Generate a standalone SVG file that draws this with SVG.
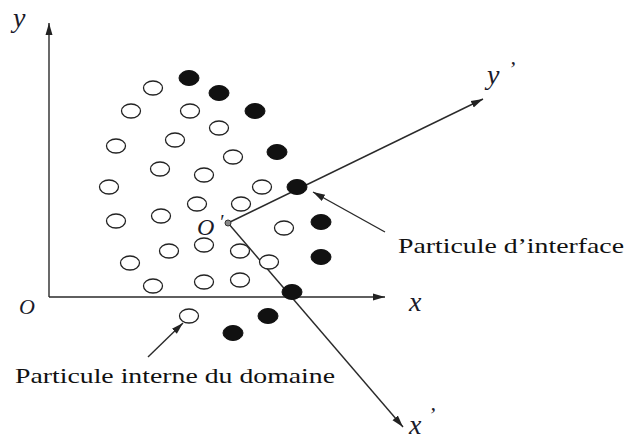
<svg xmlns="http://www.w3.org/2000/svg" width="628" height="441" viewBox="0 0 628 441">
<style>
.ax{stroke:#2a2a2a;stroke-width:1.4;fill:none}
.op{fill:#fff;stroke:#222;stroke-width:1.3}
.fl{fill:#111;stroke:#111;stroke-width:1}
.lbl{font-family:"Liberation Serif","Times New Roman",serif;font-style:italic;fill:#1a1a2a}
.txt{font-family:"Liberation Serif","Times New Roman",serif;font-size:22px;fill:#111}
</style>
<defs>
<marker id="ah" markerUnits="userSpaceOnUse" markerWidth="14" markerHeight="10" refX="12" refY="5" orient="auto">
<path d="M0,1.5 L12,5 L0,8.5 Z" fill="#222"/>
</marker>
</defs>
<rect width="628" height="441" fill="#fff"/>
<g id="connectors">
<line class="ax" x1="49" y1="297" x2="49" y2="23" marker-end="url(#ah)"/>
<line class="ax" x1="49" y1="297" x2="385" y2="297" marker-end="url(#ah)"/>
<line class="ax" x1="228" y1="223" x2="483" y2="99" marker-end="url(#ah)"/>
<line class="ax" x1="228" y1="223" x2="403" y2="427" marker-end="url(#ah)"/>
<line class="ax" x1="148" y1="357" x2="183" y2="323" marker-end="url(#ah)"/>
<line class="ax" x1="385" y1="232" x2="313" y2="192" marker-end="url(#ah)"/>
</g>
<g id="internal-particles">
<ellipse class="op" cx="153" cy="88" rx="9.5" ry="7"/>
<ellipse class="op" cx="131" cy="111" rx="9.5" ry="7"/>
<ellipse class="op" cx="190" cy="111" rx="9.5" ry="7"/>
<ellipse class="op" cx="219" cy="128" rx="9.5" ry="7"/>
<ellipse class="op" cx="116" cy="146" rx="9.5" ry="7"/>
<ellipse class="op" cx="175" cy="140" rx="9.5" ry="7"/>
<ellipse class="op" cx="233" cy="157" rx="9.5" ry="7"/>
<ellipse class="op" cx="160" cy="169" rx="9.5" ry="7"/>
<ellipse class="op" cx="204" cy="175" rx="9.5" ry="7"/>
<ellipse class="op" cx="109" cy="187" rx="9.5" ry="7"/>
<ellipse class="op" cx="262" cy="187" rx="9.5" ry="7"/>
<ellipse class="op" cx="197" cy="204" rx="9.5" ry="7"/>
<ellipse class="op" cx="241" cy="204" rx="9.5" ry="7"/>
<ellipse class="op" cx="161" cy="216" rx="9.5" ry="7"/>
<ellipse class="op" cx="116" cy="221" rx="9.5" ry="7"/>
<ellipse class="op" cx="284" cy="228" rx="9.5" ry="7"/>
<ellipse class="op" cx="169" cy="251" rx="9.5" ry="7"/>
<ellipse class="op" cx="204" cy="245" rx="9.5" ry="7"/>
<ellipse class="op" cx="240" cy="251" rx="9.5" ry="7"/>
<ellipse class="op" cx="130" cy="263" rx="9.5" ry="7"/>
<ellipse class="op" cx="269" cy="262" rx="9.5" ry="7"/>
<ellipse class="op" cx="153" cy="286" rx="9.5" ry="7"/>
<ellipse class="op" cx="204" cy="282" rx="9.5" ry="7"/>
<ellipse class="op" cx="240" cy="280" rx="9.5" ry="7"/>
<ellipse class="op" cx="189" cy="316" rx="9.5" ry="7"/>
</g>
<g id="interface-particles">
<ellipse class="fl" cx="189" cy="78" rx="10" ry="7.5"/>
<ellipse class="fl" cx="219" cy="93" rx="10" ry="7.5"/>
<ellipse class="fl" cx="255" cy="111" rx="10" ry="7.5"/>
<ellipse class="fl" cx="277" cy="152" rx="10" ry="7.5"/>
<ellipse class="fl" cx="297" cy="187" rx="10" ry="7.5"/>
<ellipse class="fl" cx="321" cy="222" rx="10" ry="7.5"/>
<ellipse class="fl" cx="321" cy="257" rx="10" ry="7.5"/>
<ellipse class="fl" cx="292" cy="292" rx="10" ry="7.5"/>
<ellipse class="fl" cx="268" cy="316" rx="10" ry="7.5"/>
<ellipse class="fl" cx="233" cy="333" rx="10" ry="7.5"/>
</g>
<g id="origin-prime">
<circle cx="228" cy="223" r="3" fill="#888" stroke="#333" stroke-width="1"/>
<text class="lbl" x="197" y="235" style="font-size:24px">O</text>
<text class="lbl" x="219" y="229" style="font-size:20px">′</text>
</g>
<g id="axis-labels">
<text class="lbl" x="13" y="27" style="font-size:28px">y</text>
<text class="lbl" x="19" y="314" style="font-size:22px">O</text>
<text class="lbl" x="409" y="311" style="font-size:28px">x</text>
<text class="lbl" x="409" y="434" style="font-size:28px">x</text>
<text class="lbl" x="428" y="422" style="font-size:22px">’</text>
<text class="lbl" x="487" y="84" style="font-size:28px">y</text>
<text class="lbl" x="508" y="76" style="font-size:22px">’</text>
</g>
<g id="label-interface">
<text class="txt" x="398" y="253" textLength="226" lengthAdjust="spacingAndGlyphs">Particule d’interface</text>
</g>
<g id="label-internal">
<text class="txt" x="15" y="383" textLength="320" lengthAdjust="spacingAndGlyphs">Particule interne du domaine</text>
</g>
</svg>
